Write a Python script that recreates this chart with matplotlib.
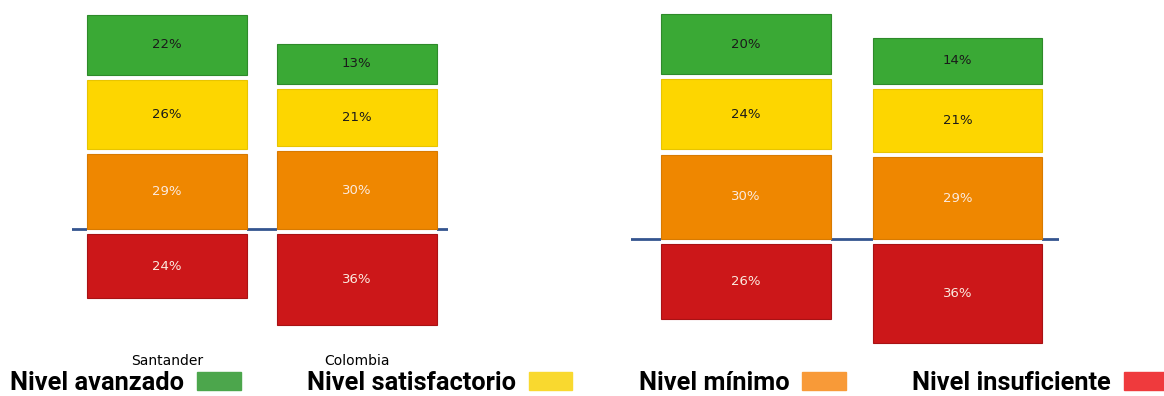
import numpy as np
import matplotlib.pyplot as plt
from matplotlib.patches import Patch

places = ['Santander', 'Colombia']

# left panel
insuf_a = [24, 36]
minimo_a = [29, 30]
satisf_a = [26, 21]
avanz_a = [22, 13]

# right panel
insuf_b = [26, 36]
minimo_b = [30, 29]
satisf_b = [24, 21]
avanz_b = [20, 14]

levels = ['Nivel avanzado', 'Nivel satisfactorio', 'Nivel mínimo', 'Nivel insuficiente']
bar_colors = ['#3aa935', '#fdd600', '#ef8700', '#cc1719']
edge_colors = ['#2e8a2a', '#e8c400', '#d87a00', '#a81214']
txt_colors = ['#1a1a1a', '#1a1a1a', '#fbeadf', '#fbeadf']
leg_colors = ['#4ca64c', '#f9d92f', '#f89a38', '#ef3a3d']

narrow = ['Liberation Sans Narrow', 'DejaVu Sans']

pad = 5     # extra height given to every segment
gap = 2.2   # white space between segments


def draw(ax, insuf, minimo, satisf, avanz, width):
    x = np.arange(len(places))
    ax.axhline(0, color='#34558f', lw=2, zorder=1)
    ax.bar(x, -gap, width, color='white', zorder=2)
    bottom = np.zeros(len(x))
    for vals, i in [(minimo, 2), (satisf, 1), (avanz, 0)]:
        h = np.array(vals) + pad
        ax.bar(x, h, width, bottom=bottom, color=bar_colors[i],
               edgecolor=edge_colors[i], lw=0.8, zorder=3)
        for xi, b, hh, v in zip(x, bottom, h, vals):
            ax.text(xi, b + hh / 2, f'{v}%', ha='center', va='center',
                    fontsize=9.5, color=txt_colors[i], family=narrow, zorder=4)
        bottom = bottom + h + gap
    h = np.array(insuf) + pad
    ax.bar(x, -h, width, bottom=-gap, color=bar_colors[3],
           edgecolor=edge_colors[3], lw=0.8, zorder=3)
    for xi, hh, v in zip(x, h, insuf):
        ax.text(xi, -gap - hh / 2, f'{v}%', ha='center', va='center',
                fontsize=9.5, color=txt_colors[3], family=narrow, zorder=4)
    for s in ax.spines.values():
        s.set_visible(False)
    ax.set_yticks([])


fig = plt.figure(figsize=(11.64, 3.96), dpi=100)

ax1 = fig.add_axes([72 / 1164, 46 / 396, 376 / 1164, 350 / 396])
draw(ax1, insuf_a, minimo_a, satisf_a, avanz_a, 0.842)
ax1.set_xlim(-0.5, 1.48)
ax1.set_ylim(-(350 - 229) / 2.22, 229 / 2.22)
ax1.set_xticks(range(len(places)))
ax1.set_xticklabels(places, family=narrow, fontsize=10)
ax1.tick_params(axis='x', length=0, pad=3)

ax2 = fig.add_axes([631 / 1164, 46 / 396, 428 / 1164, 350 / 396])
draw(ax2, insuf_b, minimo_b, satisf_b, avanz_b, 0.8)
ax2.set_xlim(-0.544, 1.48)
ax2.set_ylim(-(350 - 239) / 2.41, 239 / 2.41)
ax2.set_xticks([])

handles = [Patch(facecolor=c, edgecolor=c) for c in leg_colors]
fig.legend(handles, levels, loc='center left', bbox_to_anchor=(10 / 1164, 13 / 396),
           ncol=4, markerfirst=False, frameon=False, handlelength=1.72,
           handleheight=0.74, handletextpad=0.51, columnspacing=2.6,
           borderaxespad=0, borderpad=0,
           prop={'family': 'Roboto', 'weight': 'bold', 'size': 18.3})

fig.savefig('out.png', dpi=100)
